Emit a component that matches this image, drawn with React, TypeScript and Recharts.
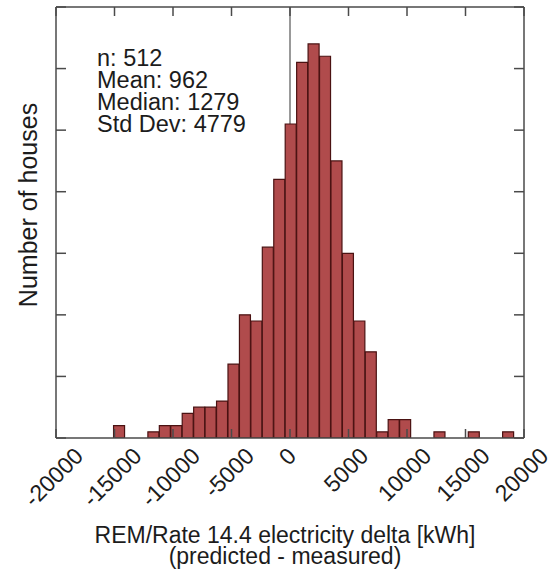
import React from 'react';
import { BarChart, Bar, XAxis, YAxis, CartesianGrid } from 'recharts';

// histogram bins (centre of each bin, kWh) and number of houses per bin
const binCenters = [
  -14591, -13613, -12635, -11657, -10679, -9701, -8723, -7745, -6767, -5789,
  -4811, -3833, -2855, -1877, -899, 79, 1057, 2035, 3013, 3991,
  4969, 5947, 6925, 7903, 8881, 9859, 10837, 11815, 12793, 13771,
  14749, 15727, 16705, 17683, 18661,
];
const houseCounts = [
  2, 0, 0, 1, 2, 2, 4, 5, 5, 6,
  12, 20, 19, 31, 42, 51, 61, 64, 62, 45,
  30, 19, 14, 1, 3, 3, 0, 0, 1, 0,
  0, 1, 0, 0, 1,
];
const xTicks = [-20000, -15000, -10000, -5000, 0, 5000, 10000, 15000, 20000];
const yTicks = [0, 10, 20, 30, 40, 50, 60, 70];
const statLines = ['n: 512', 'Mean: 962', 'Median: 1279', 'Std Dev: 4779'];
const xTitle = ['REM/Rate 14.4 electricity delta [kWh]', '(predicted - measured)'];
const yTitle = 'Number of houses';

const data = binCenters.map((c, i) => ({ delta: c, houses: houseCounts[i] }));

const FONT = '"Liberation Sans", Arial, Helvetica, sans-serif';
const INK = '#1c1c1c';
const FRAME = '#4a4a4a';
const FS = 23;
const PLOT_TOP = 7;

// rough Arial advance widths, used to centre the rotated labels
const labelWidth = (s: string) =>
  s.split('').reduce((w, ch) => w + (ch === '-' ? 0.333 : 0.556), 0) * FS;

// bottom axis tick: inward marks on the bottom and top edges plus a 45° label
const SlantTick = (props: any) => {
  const { x, y, payload } = props;
  const label = String(payload.value);
  const L = labelWidth(label);
  const cy = y + 8 + (L + 0.716 * FS) * 0.354;
  const cx = x - 2.5;
  return (
    <g>
      <line x1={x} y1={y} x2={x} y2={y - 9} stroke={FRAME} strokeWidth={1.5} />
      <line x1={x} y1={PLOT_TOP} x2={x} y2={PLOT_TOP + 9} stroke={FRAME} strokeWidth={1.5} />
      <text
        x={cx}
        y={cy}
        textAnchor="middle"
        dominantBaseline="central"
        transform={`rotate(-45 ${cx} ${cy})`}
        fontFamily={FONT}
        fontSize={FS}
        fill={INK}
      >
        {label}
      </text>
    </g>
  );
};

// inward tick marks only, no text
const NoLabel = () => <g />;

const lineStyle = { stroke: FRAME, strokeWidth: 1.5 };

export default function App() {
  return (
    <div style={{ position: 'absolute', left: 0, top: 0, width: 556, height: 569 }}>
      <BarChart
        width={556}
        height={569}
        data={data}
        margin={{ top: PLOT_TOP, right: 32, bottom: 130, left: 56 }}
        barCategoryGap={0}
        barGap={0}
      >
        <CartesianGrid
          xAxisId="b"
          horizontal={false}
          verticalValues={[0]}
          stroke="#777"
          strokeWidth={1.5}
        />
        <Bar
          dataKey="houses"
          xAxisId="b"
          yAxisId="l"
          fill="#b04b4c"
          stroke="#4a1212"
          strokeWidth={1.2}
          isAnimationActive={false}
        />
        <XAxis
          xAxisId="b"
          dataKey="delta"
          type="number"
          domain={[-20000, 20000]}
          ticks={xTicks}
          allowDataOverflow
          height={1}
          tickSize={0}
          tickMargin={0}
          tickLine={false}
          axisLine={lineStyle}
          tick={<SlantTick />}
          interval={0}
        />
        <XAxis
          xAxisId="t"
          orientation="top"
          type="number"
          domain={[-20000, 20000]}
          ticks={xTicks}
          allowDataOverflow
          height={1}
          mirror
          tickLine={false}
          tick={<NoLabel />}
          axisLine={lineStyle}
          interval={0}
        />
        <YAxis
          yAxisId="l"
          type="number"
          domain={[0, 70]}
          ticks={yTicks}
          allowDataOverflow
          width={1}
          mirror
          tickSize={10}
          tick={<NoLabel />}
          tickLine={lineStyle}
          axisLine={lineStyle}
          interval={0}
        />
        <YAxis
          yAxisId="r"
          orientation="right"
          type="number"
          domain={[0, 70]}
          ticks={yTicks}
          allowDataOverflow
          width={1}
          mirror
          tickSize={10}
          tick={<NoLabel />}
          tickLine={lineStyle}
          axisLine={lineStyle}
          interval={0}
        />
      </BarChart>
      <svg
        width={556}
        height={569}
        style={{ position: 'absolute', left: 0, top: 0, pointerEvents: 'none' }}
        fontFamily={FONT}
        fill={INK}
      >
        {statLines.map((s, i) => (
          <text key={s} x={97} y={65.7 + i * 22.2} fontSize={23.5}>
            {s}
          </text>
        ))}
        {xTitle.map((s, i) => (
          <text key={s} x={285} y={542.7 + i * 21.5} fontSize={FS} textAnchor="middle">
            {s}
          </text>
        ))}
        <text
          x={37}
          y={205}
          fontSize={25}
          textAnchor="middle"
          transform="rotate(-90 37 205)"
        >
          {yTitle}
        </text>
      </svg>
    </div>
  );
}
